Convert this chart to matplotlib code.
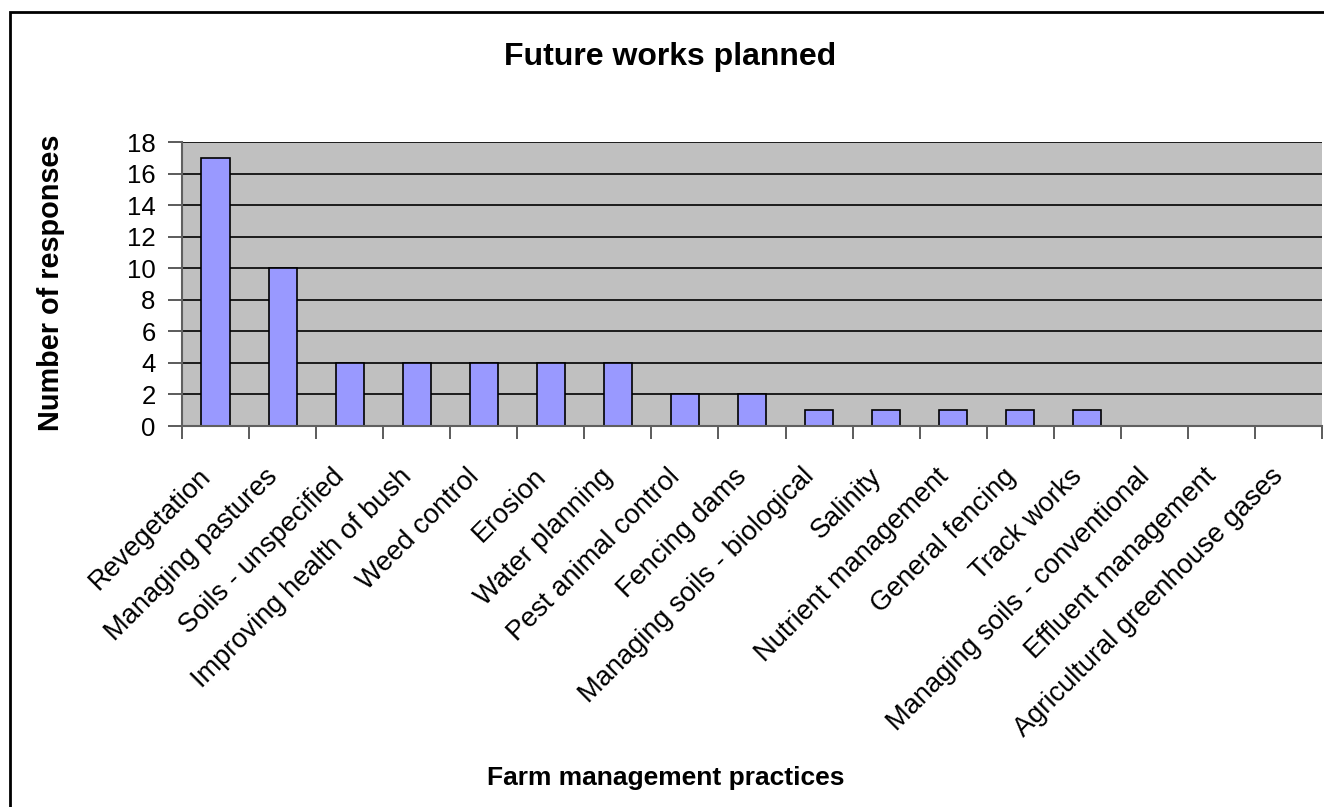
import matplotlib
matplotlib.use('Agg')
import matplotlib.pyplot as plt
from matplotlib.patches import Rectangle
from matplotlib.transforms import ScaledTranslation

plt.rcParams['font.family'] = ['Liberation Sans', 'DejaVu Sans']

practices = [
    'Revegetation', 'Managing pastures', 'Soils - unspecified',
    'Improving health of bush', 'Weed control', 'Erosion', 'Water planning',
    'Pest animal control', 'Fencing dams', 'Managing soils - biological',
    'Salinity', 'Nutrient management', 'General fencing', 'Track works',
    'Managing soils - conventional', 'Effluent management',
    'Agricultural greenhouse gases',
]
responses = [17, 10, 4, 4, 4, 4, 4, 2, 2, 1, 1, 1, 1, 1, 0, 0, 0]
yticks = list(range(0, 19, 2))

fig = plt.figure(figsize=(13.24, 8.07), dpi=100)

# chart frame (right and bottom edges fall outside the canvas)
fig.patches.append(Rectangle((10 / 1324, -0.1), 1.2, (807 - 12) / 807 + 0.1,
                             transform=fig.transFigure, fill=False,
                             edgecolor='black', linewidth=2, zorder=0))

ax = fig.add_axes([182 / 1324, 381 / 807, 1140 / 1324, 284 / 807])
ax.set_facecolor('#C0C0C0')

x = list(range(len(practices)))
# empty categories get no outline
edges = ['black' if v > 0 else 'none' for v in responses]
ax.bar(x, responses, width=0.42, color='#9999FF', edgecolor=edges,
       linewidth=1.2, zorder=3)

ax.set_xlim(-0.5, len(practices) - 0.5)
ax.set_ylim(0, 18)
ax.set_yticks(yticks)
ax.yaxis.grid(True, color='black', linewidth=1.2, zorder=1)
ax.set_axisbelow(True)

# ticks sit on the category boundaries, labels on the centres
ax.set_xticks([i - 0.5 for i in x] + [len(x) - 0.5])
ax.set_xticklabels([])
ax.set_xticks(x, minor=True)
ax.set_xticklabels(practices, minor=True, rotation=45, ha='right', va='top',
                   rotation_mode='anchor', fontsize=19.6)
ax.tick_params(axis='x', which='minor', length=0, pad=27)
ax.tick_params(axis='x', which='major', length=9, width=1.2, color='#404040')
ax.tick_params(axis='y', length=10, width=1.2, color='#404040',
               labelsize=18.5, pad=9)
shift = ScaledTranslation(-0.18, 0, fig.dpi_scale_trans)
for lab in ax.get_xticklabels(minor=True):
    lab.set_transform(lab.get_transform() + shift)

for side in ['top', 'right']:
    ax.spines[side].set_visible(False)
for side in ['left', 'bottom']:
    ax.spines[side].set_color('#606060')
    ax.spines[side].set_linewidth(1.5)
    ax.spines[side].set_zorder(4)

fig.text(670 / 1324, 1 - 65 / 807, 'Future works planned', ha='center',
         va='baseline', fontsize=23, fontweight='bold')
fig.text(666 / 1324, 1 - 785 / 807, 'Farm management practices', ha='center',
         va='baseline', fontsize=19, fontweight='bold')
fig.text(51 / 1324, 1 - 283 / 807, 'Number of responses', ha='center',
         va='center', rotation=90, fontsize=20.8, fontweight='bold')

fig.savefig('out.png', dpi=100)
